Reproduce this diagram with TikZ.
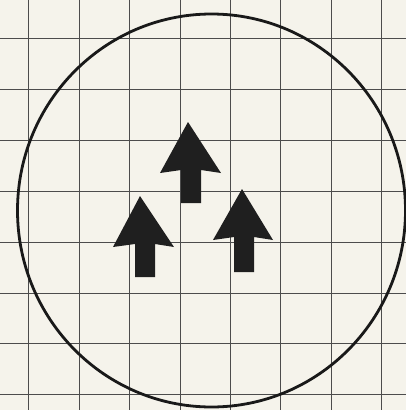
\documentclass[tikz,border=0pt]{standalone}
\usetikzlibrary{shapes.geometric}
\begin{document}
\begin{tikzpicture}[x=1pt,y=-1pt,
  gridline/.style={draw=black!70,line width=0.8pt},
  ring/.style={draw=black!90,line width=2.8pt},
  arrowshape/.style={fill=black!88,draw=none}]
\definecolor{paper}{RGB}{245,243,235}
\fill[paper] (0,0) rectangle (406,410);
\useasboundingbox (0,0) rectangle (406,410);
\foreach \gx in {28,79,129,180,230,280,331,381}
  \draw[gridline] (\gx,0) -- (\gx,410);
\foreach \gy in {38,89,140,191,242,293,343,394}
  \draw[gridline] (0,\gy) -- (406,\gy);
\node[ellipse,minimum width=388pt,minimum height=393pt,inner sep=0pt,ring] (ring) at (211.5,210.5) {};
% top arrow
\fill[arrowshape] (188,122) -- (221,173) -- (201,170) -- (201,203) -- (181,203) -- (181,170) -- (160,173) -- cycle;
% left arrow
\fill[arrowshape] (140,196) -- (174,247) -- (155,244) -- (155,277) -- (135,277) -- (135,244) -- (113,247) -- cycle;
% right arrow
\fill[arrowshape] (242,189) -- (273,240) -- (254,237) -- (254,272) -- (234,272) -- (234,237) -- (213,240) -- cycle;
\end{tikzpicture}
\end{document}
